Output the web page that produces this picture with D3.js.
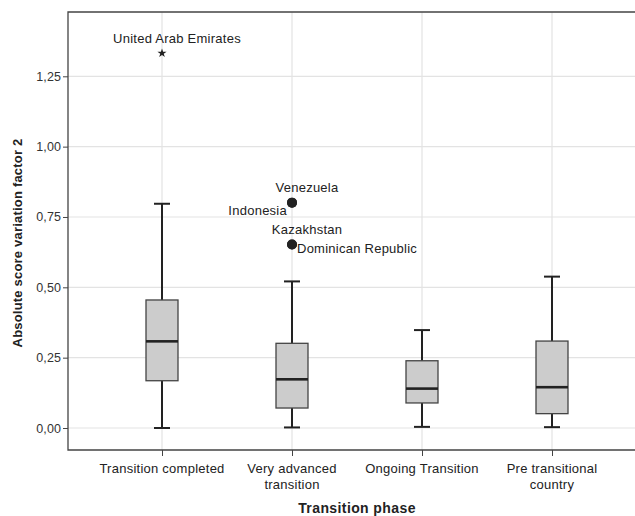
<!DOCTYPE html>
<html><head><meta charset="utf-8">
<script src="https://cdn.jsdelivr.net/npm/d3@7"></script>
<style>body{margin:0;background:#fff}svg{display:block}text{font-family:"Liberation Sans",Arial,sans-serif}</style>
</head><body><svg id="c" width="635" height="516"></svg>
<script>
const categories = ["Transition completed", "Very advanced\ntransition", "Ongoing Transition", "Pre transitional\ncountry"];
const whiskerLow  = [0.000, 0.002, 0.004, 0.003];
const q1          = [0.168, 0.071, 0.089, 0.051];
const median      = [0.308, 0.173, 0.140, 0.145];
const q3          = [0.455, 0.301, 0.239, 0.309];
const whiskerHigh = [0.797, 0.521, 0.348, 0.538];
const outlierCat   = [1, 1, 1, 1];
const outlierValue = [0.801, 0.801, 0.652, 0.652];
const outlierLabel = ["Venezuela", "Indonesia", "Kazakhstan", "Dominican Republic"];
const outlierPos   = ["above", "left", "above", "right"];
const extremeCat = [0];
const extremeValue = [1.332];
const extremeLabel = ["United Arab Emirates"];
const yTicks = [0, 0.25, 0.5, 0.75, 1.0, 1.25];
const yTitle = "Absolute score variation factor 2";
const xTitle = "Transition phase";

const svg = d3.select("#c");
const L = 68, T = 12, B = 450, R = 640;
const y = d3.scaleLinear().domain([0, 1.25]).range([428, 76.3]);
const x = d3.scalePoint().domain(d3.range(categories.length)).range([162, 552]);
const LS = 0.25;

// grid
svg.append("g").selectAll("line").data(yTicks).join("line")
  .attr("x1", L).attr("x2", R).attr("y1", d => y(d)).attr("y2", d => y(d))
  .attr("stroke", "#e3e3e3").attr("stroke-width", 1.2);
svg.append("g").selectAll("line").data(d3.range(categories.length)).join("line")
  .attr("x1", d => x(d)).attr("x2", d => x(d)).attr("y1", T).attr("y2", B)
  .attr("stroke", "#e3e3e3").attr("stroke-width", 1.2);

// frame
svg.append("path").attr("d", `M${R},${T}H${L}V${B}H${R}`).attr("fill", "none").attr("stroke", "#444").attr("stroke-width", 1.3);

// axes
const yAxis = d3.axisLeft(y).tickValues(yTicks).tickSize(5).tickPadding(2)
  .tickFormat(d => d3.format(".2f")(d).replace(".", ","));
const gy = svg.append("g").attr("transform", `translate(${L},0)`).call(yAxis);
gy.select(".domain").remove();
gy.selectAll("line").attr("stroke", "#444");
gy.selectAll("text").attr("font-size", 12.5).attr("fill", "#333").attr("letter-spacing", 0.1);

const xAxis = d3.axisBottom(x).tickSize(6).tickFormat("");
const gx = svg.append("g").attr("transform", `translate(0,${B})`).call(xAxis);
gx.select(".domain").remove();
gx.selectAll("line").attr("stroke", "#444");
categories.forEach((c, i) => {
  const t = svg.append("text").attr("x", x(i)).attr("y", 473).attr("text-anchor", "middle")
    .attr("font-size", 13).attr("letter-spacing", LS).attr("fill", "#222");
  c.split("\n").forEach((s, k) => t.append("tspan").attr("x", x(i)).attr("dy", k ? 16 : 0).text(s));
});

// boxes
const bw = 32, cw = 16;
const g = svg.append("g");
categories.forEach((c, i) => {
  const cx = x(i);
  g.append("line").attr("x1", cx).attr("x2", cx).attr("y1", y(whiskerHigh[i])).attr("y2", y(q3[i])).attr("stroke", "#222").attr("stroke-width", 2);
  g.append("line").attr("x1", cx).attr("x2", cx).attr("y1", y(q1[i])).attr("y2", y(whiskerLow[i])).attr("stroke", "#222").attr("stroke-width", 2);
  g.append("line").attr("x1", cx - cw/2).attr("x2", cx + cw/2).attr("y1", y(whiskerHigh[i])).attr("y2", y(whiskerHigh[i])).attr("stroke", "#222").attr("stroke-width", 2);
  g.append("line").attr("x1", cx - cw/2).attr("x2", cx + cw/2).attr("y1", y(whiskerLow[i])).attr("y2", y(whiskerLow[i])).attr("stroke", "#222").attr("stroke-width", 2);
  g.append("rect").attr("x", cx - bw/2).attr("width", bw).attr("y", y(q3[i])).attr("height", y(q1[i]) - y(q3[i]))
    .attr("fill", "#cccccc").attr("stroke", "#444").attr("stroke-width", 1.3);
  g.append("line").attr("x1", cx - bw/2).attr("x2", cx + bw/2).attr("y1", y(median[i])).attr("y2", y(median[i])).attr("stroke", "#222").attr("stroke-width", 2.6);
});

// outliers
outlierValue.forEach((v, k) => {
  const cx = x(outlierCat[k]), cy = y(v);
  g.append("circle").attr("cx", cx).attr("cy", cy).attr("r", 5).attr("fill", "#222");
  const p = outlierPos[k];
  const t = g.append("text").attr("font-size", 13).attr("letter-spacing", LS).attr("fill", "#222").text(outlierLabel[k]);
  if (p === "above") t.attr("x", cx + 15).attr("y", cy - 11).attr("text-anchor", "middle");
  else if (p === "left") t.attr("x", cx - 5).attr("y", cy + 12).attr("text-anchor", "end");
  else t.attr("x", cx + 5).attr("y", cy + 8).attr("text-anchor", "start");
});
extremeValue.forEach((v, k) => {
  const cx = x(extremeCat[k]), cy = y(v);
  g.append("path").attr("d", d3.symbol(d3.symbolStar, 26)()).attr("transform", `translate(${cx},${cy})`).attr("fill", "#222");
  g.append("text").attr("x", cx + 15).attr("y", cy - 10).attr("text-anchor", "middle").attr("font-size", 13).attr("letter-spacing", LS).attr("fill", "#222").text(extremeLabel[k]);
});

// titles
svg.append("text").attr("x", 357).attr("y", 513).attr("text-anchor", "middle").attr("font-size", 14).attr("letter-spacing", 0.4).attr("font-weight", "bold").attr("fill", "#222").text(xTitle);
svg.append("text").attr("transform", "translate(22,243) rotate(-90)").attr("text-anchor", "middle").attr("font-size", 13).attr("letter-spacing", 0.2).attr("font-weight", "bold").attr("fill", "#222").text(yTitle);
</script></body></html>
